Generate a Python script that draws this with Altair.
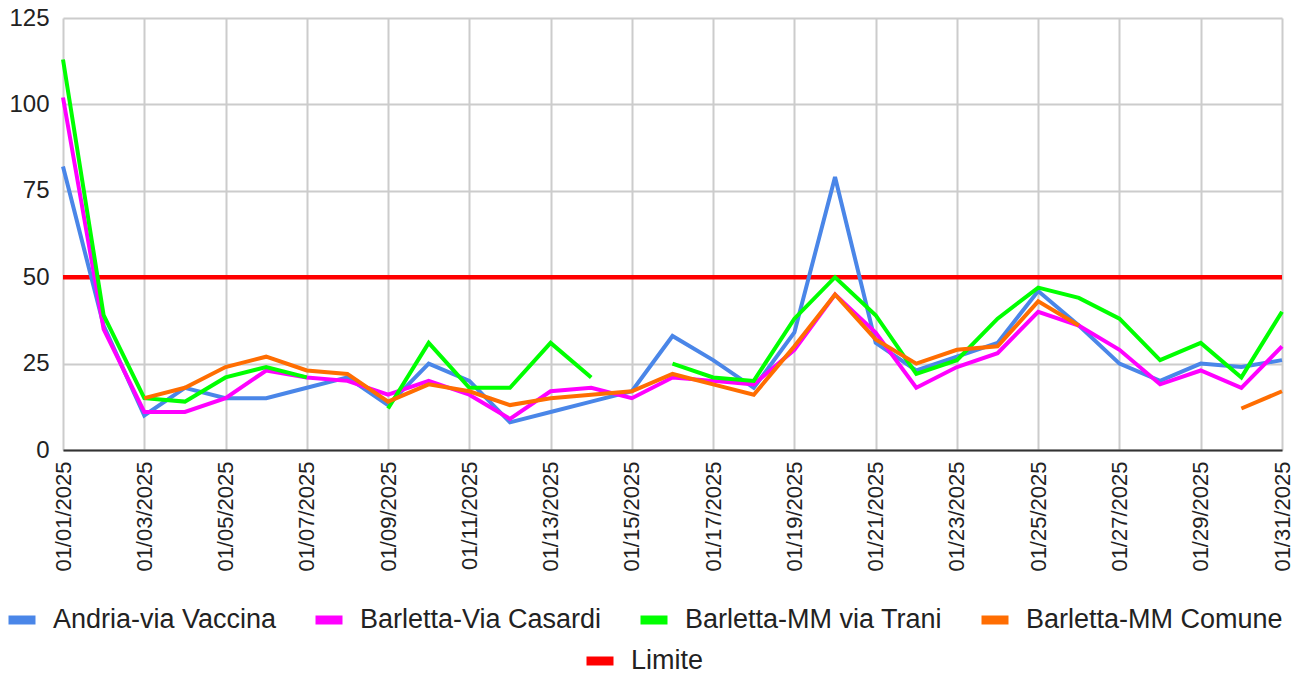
import altair as alt
import pandas as pd

dates = ["01/01/2025", "01/02/2025", "01/03/2025", "01/04/2025", "01/05/2025", "01/06/2025",
         "01/07/2025", "01/08/2025", "01/09/2025", "01/10/2025", "01/11/2025", "01/12/2025",
         "01/13/2025", "01/14/2025", "01/15/2025", "01/16/2025", "01/17/2025", "01/18/2025",
         "01/19/2025", "01/20/2025", "01/21/2025", "01/22/2025", "01/23/2025", "01/24/2025",
         "01/25/2025", "01/26/2025", "01/27/2025", "01/28/2025", "01/29/2025", "01/30/2025",
         "01/31/2025"]
tick_dates = ["01/01/2025", "01/03/2025", "01/05/2025", "01/07/2025", "01/09/2025", "01/11/2025",
              "01/13/2025", "01/15/2025", "01/17/2025", "01/19/2025", "01/21/2025", "01/23/2025",
              "01/25/2025", "01/27/2025", "01/29/2025", "01/31/2025"]
y_ticks = [0, 25, 50, 75, 100, 125]

series_names = ["Andria-via Vaccina", "Barletta-Via Casardi", "Barletta-MM via Trani", "Barletta-MM Comune"]
series_colors = ["#4a86e8", "#ff00ff", "#00ff00", "#ff6d01"]

andria = [82, 36, 10, 18, 15, 15, 18, 21, 13, 25, 20, 8, 11, 14, 17, 33, 26, 18, 34, 79,
          31, 23, 27, 31, 46, 36, 25, 20, 25, 24, 26]
casardi = [102, 35, 11, 11, 15, 23, 21, 20, 16, 20, 16, 9, 17, 18, 15, 21, 20, 19, 29, 45,
           34, 18, 24, 28, 40, 36, 29, 19, 23, 18, 30]
trani = [113, 39, 15, 14, 21, 24, 21, None, 12, 31, 18, 18, 31, 21, None, 25, 21, 20, 38, 50,
         39, 22, 26, 38, 47, 44, 38, 26, 31, 21, 40]
comune = [None, None, 15, 18, 24, 27, 23, 22, 14, 19, 17, 13, 15, 16, 17, 22, 19, 16, 30, 45,
          32, 25, 29, 30, 43, 36, None, None, None, 12, 17]
limite = [50, 50, 50, 50, 50, 50, 50, 50, 50, 50, 50, 50, 50, 50, 50, 50, 50, 50, 50, 50,
          50, 50, 50, 50, 50, 50, 50, 50, 50, 50, 50]

rows = []
for name, vals in zip(series_names, [andria, casardi, trani, comune]):
    seg = 0
    gap = True
    for d, v in zip(dates, vals):
        if v is None:
            gap = True
            continue
        if gap:
            seg += 1
            gap = False
        rows.append({"date": d, "series": name, "value": v, "seg": f"{name}-{seg}"})
df = pd.DataFrame(rows)
lim_df = pd.DataFrame({"date": dates, "lim": ["Limite"] * len(dates), "value": limite})

FONT = "Liberation Sans"
TXT = "#222222"

x_enc = alt.X(
    "date:O",
    sort=dates,
    scale=alt.Scale(type="point", padding=0, domain=dates),
    axis=alt.Axis(
        values=tick_dates, labelAngle=-90, title=None, ticks=False,
        labelFont=FONT, labelFontSize=22, labelColor=TXT, labelPadding=11,
        domainColor="#333333", domainWidth=2, grid=True, gridColor="#cccccc", gridWidth=2,
    ),
)
y_enc = alt.Y(
    "value:Q",
    scale=alt.Scale(domain=[0, 125], nice=False, zero=True),
    axis=alt.Axis(
        values=y_ticks, title=None, ticks=False, domain=False,
        labelFont=FONT, labelFontSize=24, labelColor=TXT, labelPadding=14,
        grid=True, gridColor="#cccccc", gridWidth=2,
    ),
)

legend_common = dict(
    orient="none", direction="horizontal", symbolType="stroke",
    symbolSize=729, symbolStrokeWidth=9, labelFontSize=27, labelFont=FONT,
    labelColor=TXT, columnPadding=20, labelOffset=13, title=None, labelLimit=0, padding=0,
)

color_enc = alt.Color(
    "series:N",
    scale=alt.Scale(domain=series_names, range=series_colors),
    legend=alt.Legend(legendX=-59, legendY=584, **legend_common),
)

lim_layer = alt.Chart(lim_df).mark_line(strokeWidth=4.5).encode(
    x=x_enc,
    y=y_enc,
    stroke=alt.Stroke(
        "lim:N",
        scale=alt.Scale(domain=["Limite"], range=["#ff0000"]),
        legend=alt.Legend(legendX=519, legendY=625, **legend_common),
    ),
)

layers = []
for name in series_names:
    layers.append(
        alt.Chart(df)
        .transform_filter(alt.datum.series == name)
        .mark_line(strokeWidth=4)
        .encode(x=x_enc, y=y_enc, color=color_enc, detail="seg:N")
    )

chart = (
    alt.layer(lim_layer, *layers)
    .properties(
        width=1219,
        height=432,
        autosize=alt.AutoSizeParams(type="none"),
        padding={"left": 55, "top": 10, "right": 14, "bottom": 236},
        background="white",
    )
    .configure_view(stroke=None)
)

chart.save("out.html", embed_options={"renderer": "svg", "actions": False})
